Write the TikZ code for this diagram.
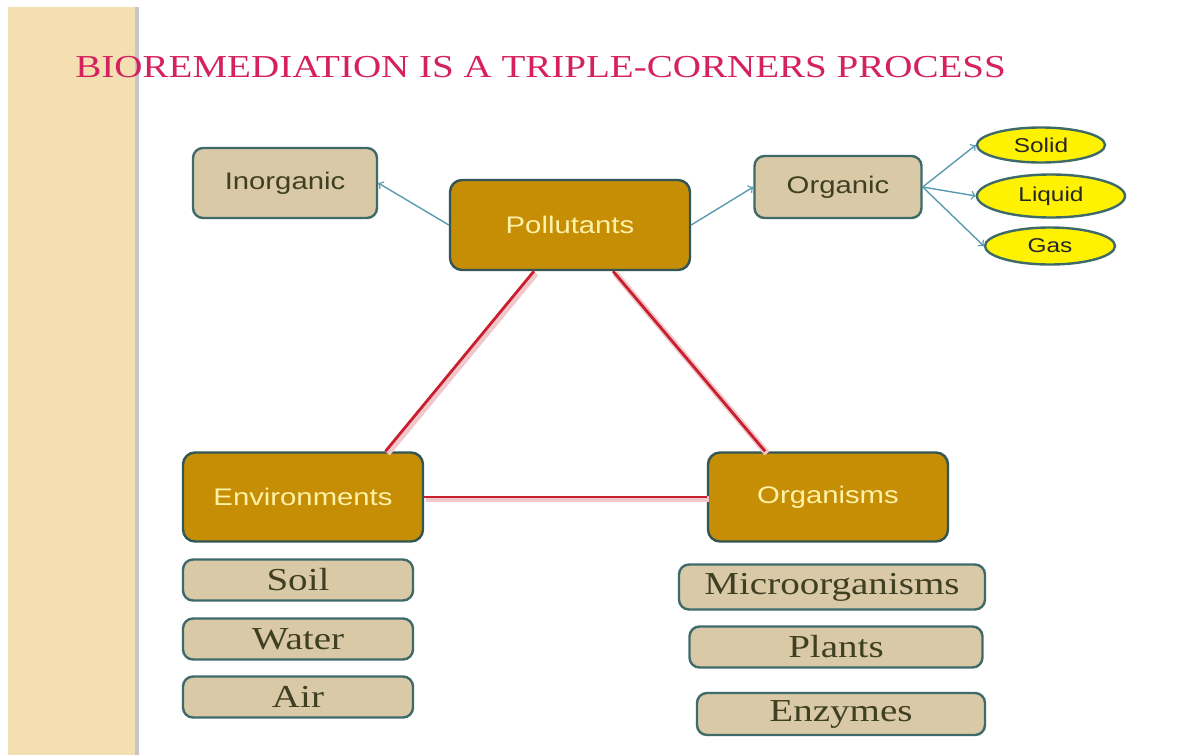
\documentclass[tikz,border=0pt]{standalone}
\usepackage{fontspec}
\setmainfont{Liberation Serif}[FakeStretch=1.22]
\setsansfont{Liberation Sans}[FakeStretch=1.22]
\usepackage{tikz}
\usetikzlibrary{shapes.geometric}

\definecolor{stripe}{HTML}{F3DFB2}
\definecolor{titlepink}{HTML}{D6215F}
\definecolor{tanfill}{HTML}{D9C9A7}
\definecolor{tantext}{HTML}{3F4022}
\definecolor{boxline}{HTML}{3F6A6A}
\definecolor{goldfill}{HTML}{C58E05}
\definecolor{goldtext}{HTML}{FFF2A8}
\definecolor{arrowblue}{HTML}{5B9BB0}
\definecolor{linkred}{HTML}{C8202E}

\begin{document}
\begin{tikzpicture}[x=0.5pt, y=-0.5pt,
    tanbox/.style={draw=boxline, line width=1.2pt, fill=tanfill, rounded corners=5pt, inner sep=0pt, text=tantext},
    goldbox/.style={draw=boxline!80!black, line width=1.2pt, fill=goldfill, rounded corners=6pt, inner sep=0pt, text=goldtext, font=\sffamily\fontsize{12}{14}\selectfont},
    state/.style={ellipse, draw=boxline, line width=1.2pt, fill=yellow, inner sep=0pt, text=black!85, font=\sffamily\fontsize{10}{12}\selectfont},
    bluearrow/.style={draw=arrowblue, line width=0.7pt, ->},
    redlink/.style={draw=linkred, line width=1.4pt, preaction={draw=linkred!25, line width=3.2pt, transform canvas={shift={(1pt,-1pt)}}}}]
        \useasboundingbox (0,0) rectangle (1179,755);
        \fill [white] (0,0) rectangle (1179,755);
        \fill [stripe]  (8,7) rectangle (135,755);
        \fill [gray!45] (135,7) rectangle (139,755);

        \node [anchor=base west, inner sep=0pt, text=titlepink, font=\fontsize{16}{19}\selectfont] (title) at (75,77) {BIOREMEDIATION IS A TRIPLE-CORNERS PROCESS};

        \node [goldbox, minimum width=120pt, minimum height=45pt]   (poll) at (570,225) {Pollutants};
        \node [goldbox, minimum width=120pt, minimum height=44.5pt] (env)  at (303,497) {Environments};
        \node [goldbox, minimum width=120pt, minimum height=44.5pt] (orgs) at (828,497) {Organisms};

        \node [tanbox, minimum width=92pt, minimum height=35pt, font=\sffamily\fontsize{12}{14}\selectfont]  (inorg) at (285,183) {Inorganic};
        \node [tanbox, minimum width=83.5pt, minimum height=31pt, font=\sffamily\fontsize{12}{14}\selectfont] (organ) at (838,187) {Organic};

        \node [state, minimum width=64pt, minimum height=17.5pt] (solid)  at (1041,145) {Solid};
        \node [state, minimum width=74pt, minimum height=21.5pt] (liquid) at (1051,196) {Liquid};
        \node [state, minimum width=65pt, minimum height=18.5pt] (gas)    at (1050,246) {Gas};

        \node [tanbox, minimum width=115pt, minimum height=20.5pt, font=\fontsize{16}{18}\selectfont] (soil)  at (298,580) {Soil};
        \node [tanbox, minimum width=115pt, minimum height=20.5pt, font=\fontsize{16}{18}\selectfont] (water) at (298,639) {Water};
        \node [tanbox, minimum width=115pt, minimum height=20.5pt, font=\fontsize{16}{18}\selectfont] (air)   at (298,697) {Air};

        \node [tanbox, minimum width=153pt, minimum height=22.5pt, font=\fontsize{16}{18}\selectfont]   (micro)   at (832,587) {Microorganisms};
        \node [tanbox, minimum width=146.5pt, minimum height=20.5pt, font=\fontsize{16}{18}\selectfont] (plants)  at (836,647) {Plants};
        \node [tanbox, minimum width=144pt, minimum height=21pt, font=\fontsize{16}{18}\selectfont]     (enzymes) at (841,714) {Enzymes};

        \draw [redlink] (poll.232) -- (env.29);
        \draw [redlink] (poll.313) -- (orgs.144);
        \draw [redlink] (env.east) -- (orgs.west);

        \draw [bluearrow] (poll.west)  -- (inorg.east);
        \draw [bluearrow] (poll.east)  -- (organ.west);
        \draw [bluearrow] (organ.east) -- (solid.west);
        \draw [bluearrow] (organ.east) -- (liquid.west);
        \draw [bluearrow] (organ.east) -- (gas.west);
      \end{tikzpicture}
\end{document}
